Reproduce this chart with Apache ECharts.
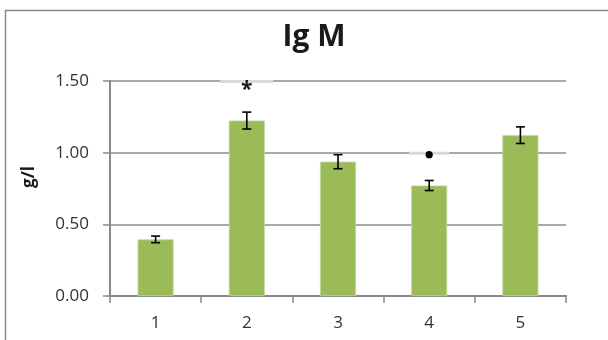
<!DOCTYPE html>
<html><head><meta charset="utf-8">
<script src="https://cdn.jsdelivr.net/npm/echarts@6/dist/echarts.min.js"></script>
<style>html,body{margin:0;padding:0;background:#fff}#c{width:608px;height:340px}</style>
</head><body><div id="c"></div>
<script>
var categories = ['1', '2', '3', '4', '5'];
var values = [0.395, 1.224, 0.937, 0.771, 1.122];
var errors = [0.023, 0.059, 0.049, 0.035, 0.058];
var sigLevels = [null, 1.50, null, 1.00, null];
var sigSymbols = ['', '*', '', '\u25CF', ''];
var yTicks = [0, 0.5, 1.0, 1.5];

var FONT = '"Open Sans", sans-serif';
var chart = echarts.init(document.getElementById('c'), null, {renderer: 'canvas'});

var errData = values.map(function (v, i) { return [i, v, errors[i]]; });
var sigData = [];
sigLevels.forEach(function (v, i) { if (v !== null) sigData.push([i, v, sigSymbols[i]]); });
var segW = {1: 53, 3: 40};

chart.setOption({
  animation: false,
  title: {
    text: 'Ig M', left: 309, top: 17, textAlign: 'center',
    textStyle: {fontFamily: FONT, fontWeight: 'bold', fontSize: 30, color: '#1a1a1a'}
  },
  grid: {left: 110, right: 42, top: 81, bottom: 44},
  xAxis: {
    type: 'category', data: categories, boundaryGap: true,
    axisLine: {show: true, lineStyle: {color: '#898989', width: 2}},
    axisTick: {show: true, inside: false, length: 7, lineStyle: {color: '#898989', width: 1.5}},
    axisLabel: {margin: 19, fontFamily: FONT, fontSize: 17, color: '#333333'},
    splitLine: {show: false}
  },
  yAxis: {
    type: 'value', min: 0, max: 1.5, interval: 0.5,
    axisLine: {show: true, lineStyle: {color: '#898989', width: 2}},
    axisTick: {show: true, inside: false, length: 7, lineStyle: {color: '#898989', width: 1.5}},
    axisLabel: {margin: 21, fontFamily: FONT, fontSize: 17, color: '#333333',
      formatter: function (v) { return yTicks.indexOf(v) >= 0 ? v.toFixed(2) : ''; }},
    splitLine: {show: true, lineStyle: {color: '#8c8c8c', width: 1.5}}
  },
  graphic: [
    {type: 'rect', z: -10, shape: {x: 5.5, y: 10.5, width: 700, height: 400},
      style: {fill: 'none', stroke: '#8a8a8a', lineWidth: 1.5}},
    {type: 'text', x: 29, y: 177, rotation: Math.PI / 2,
      style: {text: 'g/l', fontFamily: FONT, fontWeight: 'bold', fontSize: 17, fill: '#1a1a1a',
        textAlign: 'center', textVerticalAlign: 'middle'}}
  ],
  series: [
    {
      type: 'bar', data: values, barWidth: 36,
      itemStyle: {color: '#9BBB59', borderColor: '#c3d69b', borderWidth: 0.8}
    },
    {
      type: 'custom', data: errData, z: 5,
      renderItem: function (params, api) {
        var x = api.value(0), v = api.value(1), e = api.value(2);
        var top = api.coord([x, v + e]), bot = api.coord([x, v - e]);
        var cw = 4.5;
        var st = {stroke: '#000', lineWidth: 1.6};
        return {type: 'group', children: [
          {type: 'line', shape: {x1: top[0], y1: top[1], x2: bot[0], y2: bot[1]}, style: st},
          {type: 'line', shape: {x1: top[0] - cw, y1: top[1], x2: top[0] + cw, y2: top[1]}, style: st},
          {type: 'line', shape: {x1: bot[0] - cw, y1: bot[1], x2: bot[0] + cw, y2: bot[1]}, style: st}
        ]};
      }
    },
    {
      type: 'custom', data: sigData, z: 6,
      renderItem: function (params, api) {
        var i = api.value(0), v = api.value(1);
        var sym = sigData[params.dataIndex][2];
        var p = api.coord([i, v]);
        var w = segW[i] || 46;
        var children = [
          {type: 'line', shape: {x1: p[0] - w / 2, y1: p[1] + 0.5, x2: p[0] + w / 2, y2: p[1] + 0.5},
            style: {stroke: '#d9d9d9', lineWidth: 3}}
        ];
        if (sym === '*') {
          children.push({type: 'text', x: p[0], y: p[1] + 9,
            style: {text: '*', fontFamily: FONT, fontWeight: 'bold', fontSize: 21, fill: '#1a1a1a',
              textAlign: 'center', textVerticalAlign: 'middle'}});
        } else {
          children.push({type: 'circle', shape: {cx: p[0], cy: p[1] + 2, r: 3.6},
            style: {fill: '#000'}});
        }
        return {type: 'group', children: children};
      }
    }
  ]
});
</script></body></html>
